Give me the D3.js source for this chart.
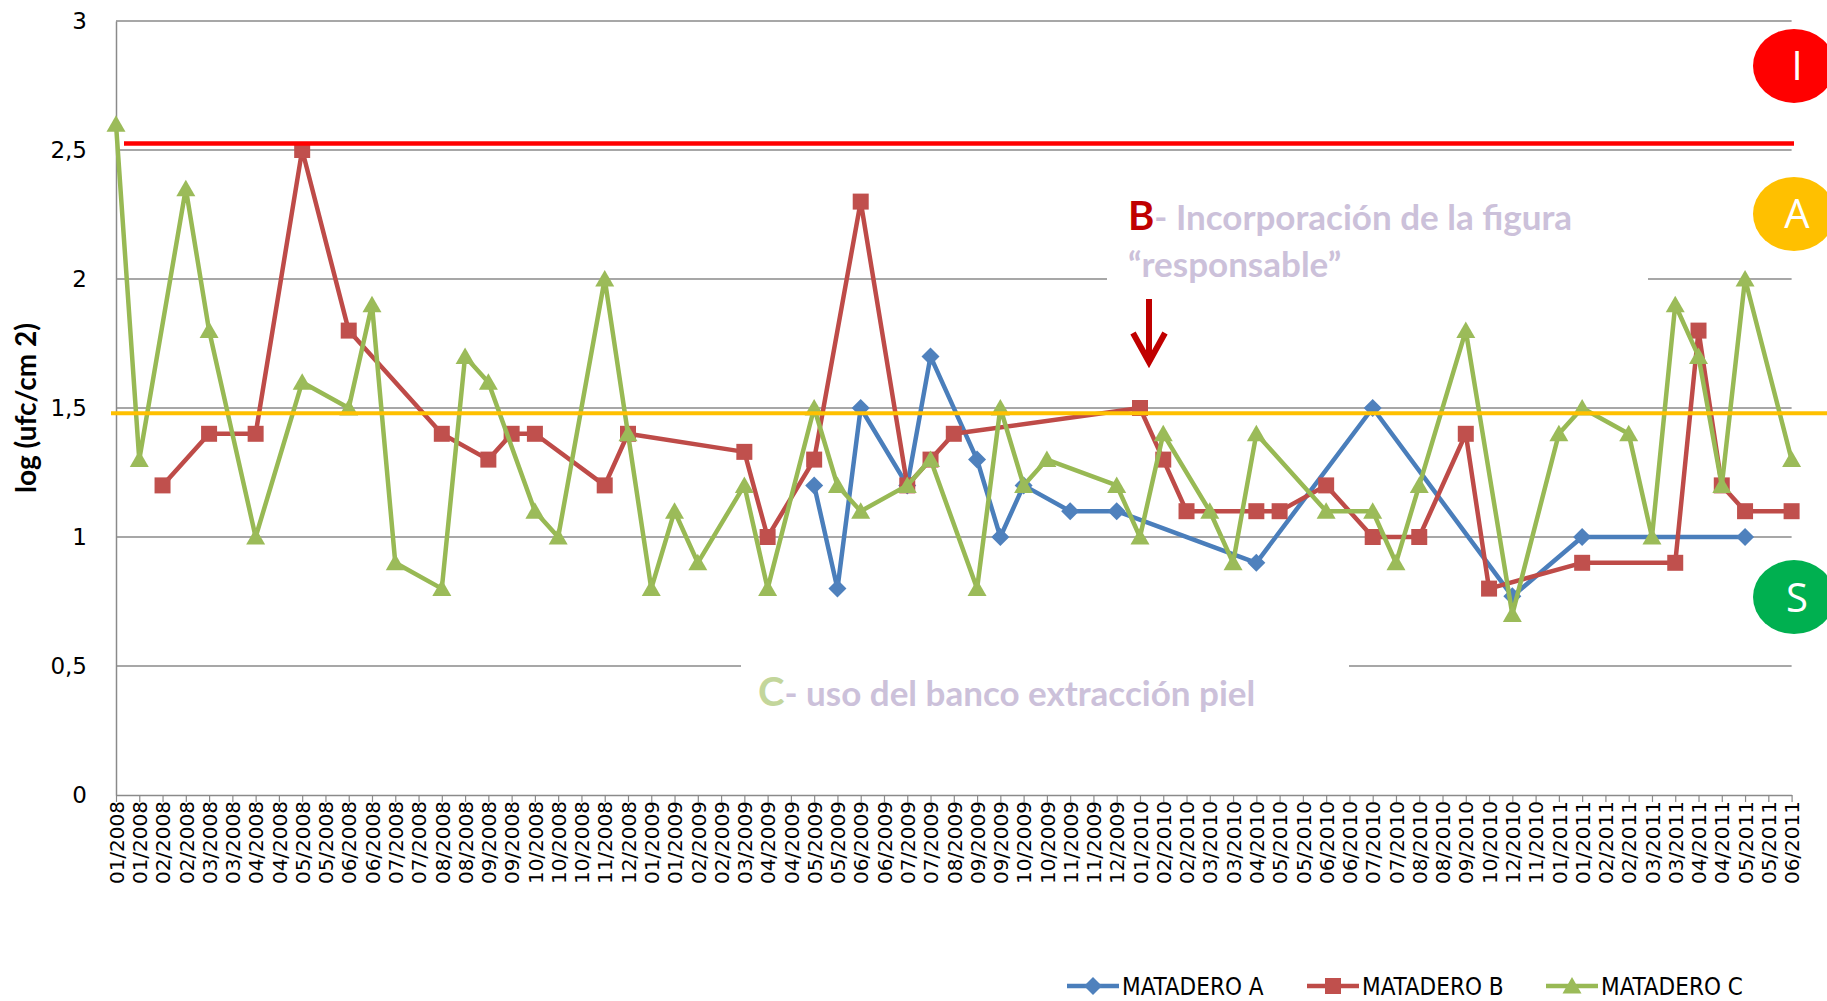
<!DOCTYPE html>
<html><head><meta charset="utf-8">
<script src="https://cdn.jsdelivr.net/npm/d3@7"></script>
<style>
html,body{margin:0;padding:0;background:#fff;}
svg{display:block;}
</style></head>
<body>
<svg id="chart" width="1827" height="1001"></svg>
<script>
// ---------------- data ----------------
const categories = [
 "01/2008","01/2008","02/2008","02/2008","03/2008","03/2008","04/2008","04/2008","05/2008","05/2008",
 "06/2008","06/2008","07/2008","07/2008","08/2008","08/2008","09/2008","09/2008","10/2008","10/2008",
 "10/2008","11/2008","12/2008","01/2009","01/2009","02/2009","02/2009","03/2009","04/2009","04/2009",
 "05/2009","05/2009","06/2009","06/2009","07/2009","07/2009","08/2009","09/2009","09/2009","10/2009",
 "10/2009","11/2009","11/2009","12/2009","01/2010","02/2010","02/2010","03/2010","03/2010","04/2010",
 "05/2010","05/2010","06/2010","06/2010","07/2010","07/2010","08/2010","08/2010","09/2010","10/2010",
 "12/2010","11/2010","01/2011","01/2011","02/2011","02/2011","03/2011","03/2011","04/2011","04/2011",
 "05/2011","05/2011","06/2011"
];
const seriesNames = ["MATADERO A","MATADERO B","MATADERO C"];
const valuesA = [
 null,null,null,null,null,null,null,null,null,null,
 null,null,null,null,null,null,null,null,null,null,
 null,null,null,null,null,null,null,null,null,null,
 1.2,0.8,1.5,null,1.2,1.7,null,1.3,1.0,1.2,
 null,1.1,null,1.1,null,null,null,null,null,0.9,
 null,null,null,null,1.5,null,null,null,null,null,
 0.77,null,null,1.0,null,null,null,null,null,null,
 1.0,null,null
];
const valuesB = [
 null,null,1.2,null,1.4,null,1.4,null,2.5,null,
 1.8,null,null,null,1.4,null,1.3,1.4,1.4,null,
 null,1.2,1.4,null,null,null,null,1.33,1.0,null,
 1.3,null,2.3,null,1.2,1.3,1.4,null,null,null,
 null,null,null,null,1.5,1.3,1.1,null,null,1.1,
 1.1,null,1.2,null,1.0,null,1.0,null,1.4,0.8,
 null,null,null,0.9,null,null,null,0.9,1.8,1.2,
 1.1,null,1.1
];
const valuesC = [
 2.6,1.3,null,2.35,1.8,null,1.0,null,1.6,null,
 1.5,1.9,0.9,null,0.8,1.7,1.6,null,1.1,1.0,
 null,2.0,1.4,0.8,1.1,0.9,null,1.2,0.8,null,
 1.5,1.2,1.1,null,1.2,1.3,null,0.8,1.5,1.2,
 1.3,null,null,1.2,1.0,1.4,null,1.1,0.9,1.4,
 null,null,1.1,null,1.1,0.9,1.2,null,1.8,null,
 0.7,null,1.4,1.5,null,1.4,1.0,1.9,1.7,1.2,
 2.0,null,1.3
];
const yTicks = [0,0.5,1,1.5,2,2.5,3];
const yTitle = "log (ufc/cm 2)";
const limitRed = 2.525;
const limitOrange = 1.48;
const zoneLetters = ["I","A","S"];
const zoneLevels = [2.826, 2.252, 0.767];
const noteB = ["B","- Incorporación de la figura","“responsable”"];
const noteC = ["C","- uso del banco extracción piel"];

// ---------------- styles ----------------
const lineColors = ["#4a7ebb","#be4b48","#98b954"];
const fillColors = ["#4f81bd","#c0504d","#9bbb59"];
const shapes = ["diamond","square","triangle"];
const zoneColors = ["#ff0000","#ffc000","#00b050"];

const svg = d3.select("#chart");
svg.append("rect").attr("width",1827).attr("height",1001).attr("fill","#fff");

const x = d3.scaleLinear().domain([0, categories.length-1]).range([116, 1791.6]);
const y = d3.scaleLinear().domain([0,3]).range([795, 21]);
const X0 = x.range()[0], X1 = x.range()[1];

// gridlines
svg.append("g").selectAll("line").data(yTicks.filter(v=>v>0)).join("line")
  .attr("x1",X0).attr("x2",X1).attr("y1",d=>y(d)).attr("y2",d=>y(d))
  .attr("stroke","#8a8a8a").attr("stroke-width",1.4);

// white text boxes covering gridlines
svg.append("rect").attr("x",1107).attr("y",160).attr("width",541).attr("height",140).attr("fill","#fff");
svg.append("rect").attr("x",741).attr("y",630).attr("width",608).attr("height",100).attr("fill","#fff");

// y axis
const yAxis = d3.axisLeft(y).tickValues(yTicks).tickSize(0).tickPadding(29)
  .tickFormat(d=>String(d).replace(".",","));
const gy = svg.append("g").attr("transform",`translate(${X0},0)`).call(yAxis);
gy.select(".domain").attr("stroke","#8a8a8a").attr("stroke-width",1.5);
gy.selectAll("text").attr("font-family","DejaVu Sans").attr("font-size",23).attr("fill","#000");

// x axis
const xAxis = d3.axisBottom(x).tickValues(d3.range(categories.length))
  .tickFormat(i=>categories[i]).tickSize(7).tickSizeOuter(0);
const gx = svg.append("g").attr("transform",`translate(0,${y(0)})`).call(xAxis);
gx.select(".domain").attr("stroke","#8a8a8a").attr("stroke-width",1.5);
gx.selectAll(".tick line").attr("stroke","#8a8a8a").attr("stroke-width",1.2);
gx.selectAll("text").attr("font-family","DejaVu Sans").attr("font-size",20).attr("fill","#000")
  .attr("transform","rotate(-90)").attr("text-anchor","end")
  .attr("x",-6).attr("y",0).attr("dy","0.36em");

// y title
svg.append("text").attr("transform","translate(36,408) rotate(-90)")
  .attr("text-anchor","middle").attr("font-family","Lato").attr("font-weight","bold")
  .attr("font-size",28).attr("fill","#000").text(yTitle);

// markers
function markerPath(shape){
  if(shape==="diamond") return "M0,-9L9,0L0,9L-9,0Z";
  if(shape==="square") return "M-8,-8H8V8H-8Z";
  return "M0,-9L9.5,7.5L-9.5,7.5Z";
}

// series
const allSeries = [valuesA, valuesB, valuesC];
allSeries.forEach((vals, k)=>{
  const pts = vals.map((v,i)=>({i, v})).filter(d=>d.v!==null);
  const g = svg.append("g");
  g.append("path").datum(pts)
    .attr("d", d3.line().x(d=>x(d.i)).y(d=>y(d.v)))
    .attr("fill","none").attr("stroke",lineColors[k]).attr("stroke-width",4.5)
    .attr("stroke-linejoin","round").attr("stroke-linecap","round");
  g.selectAll("path.m").data(pts).join("path").attr("class","m")
    .attr("transform",d=>`translate(${x(d.i)},${y(d.v)})`)
    .attr("d", markerPath(shapes[k])).attr("fill",fillColors[k]);
});

// reference lines
svg.append("line").attr("x1",124).attr("x2",1794).attr("y1",y(limitRed)).attr("y2",y(limitRed))
  .attr("stroke","#ff0000").attr("stroke-width",4.5);
svg.append("line").attr("x1",111).attr("x2",1827).attr("y1",y(limitOrange)).attr("y2",y(limitOrange))
  .attr("stroke","#ffc000").attr("stroke-width",4);

// zone ellipses
zoneLetters.forEach((t,k)=>{
  svg.append("ellipse").attr("cx",1794).attr("cy",y(zoneLevels[k])).attr("rx",41).attr("ry",37)
    .attr("fill",zoneColors[k]);
  svg.append("text").attr("x",1797).attr("y",y(zoneLevels[k])).attr("dy","0.36em")
    .attr("text-anchor","middle").attr("font-family","Open Sans").attr("font-size",40)
    .attr("fill","#fff").text(t);
});

// annotations
const tB = svg.append("text").attr("x",1128).attr("y",230).attr("font-family","Lato").attr("font-weight","bold");
tB.append("tspan").attr("font-size",40).attr("fill","#c00000").text(noteB[0]);
tB.append("tspan").attr("font-size",35).attr("fill","#ccc1da").text(noteB[1]);
svg.append("text").attr("x",1128).attr("y",277).attr("font-family","Lato").attr("font-weight","bold")
  .attr("font-size",35).attr("fill","#ccc1da").text(noteB[2]);
svg.append("path").attr("d","M1149,299V360M1133,333L1149,362L1165,333")
  .attr("fill","none").attr("stroke","#c00000").attr("stroke-width",6);

const tC = svg.append("text").attr("x",758).attr("y",706).attr("font-family","Lato").attr("font-weight","bold");
tC.append("tspan").attr("font-size",40).attr("fill","#c3d69b").text(noteC[0]);
tC.append("tspan").attr("font-size",35).attr("fill","#ccc1da").text(noteC[1]);

// legend
const legX = [1067, 1307, 1546];
seriesNames.forEach((n,k)=>{
  const g = svg.append("g").attr("transform",`translate(${legX[k]},986)`);
  g.append("line").attr("x1",0).attr("x2",52).attr("stroke",lineColors[k]).attr("stroke-width",4.5);
  g.append("path").attr("transform","translate(26,0)").attr("d",markerPath(shapes[k])).attr("fill",fillColors[k]);
  g.append("text").attr("x",55).attr("dy","0.36em").attr("font-family","Liberation Sans Narrow, DejaVu Sans Condensed, sans-serif")
    .attr("font-size",24).attr("fill","#000").text(n);
});
</script>
</body></html>
